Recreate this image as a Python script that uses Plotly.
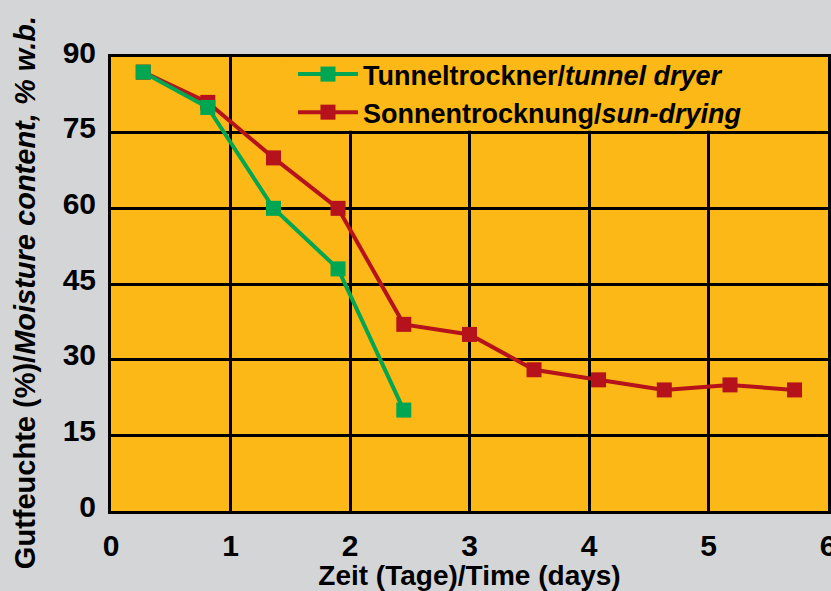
import plotly.graph_objects as go

days_tunnel = [0.27, 0.81, 1.36, 1.90, 2.45]
moist_tunnel = [87, 80, 60, 48, 20]
days_sun = [0.27, 0.81, 1.36, 1.90, 2.45, 3.0, 3.54, 4.08, 4.63, 5.18, 5.72]
moist_sun = [87, 81, 70, 60, 37, 35, 28, 26, 24, 25, 24]
x_ticks = [0, 1, 2, 3, 4, 5, 6]
y_ticks = [0, 15, 30, 45, 60, 75, 90]

GREEN = "#00a651"
RED = "#b5121b"
ORANGE = "#fbb817"
GREY = "#d4d5d7"
FONT = "Liberation Sans"

fig = go.Figure()
fig.add_trace(go.Scatter(
    x=days_sun, y=moist_sun, mode="lines+markers",
    name="Sonnentrocknung/<i>sun-drying</i>",
    line=dict(color=RED, width=4),
    marker=dict(symbol="square", size=15, color=RED),
))
fig.add_trace(go.Scatter(
    x=days_tunnel, y=moist_tunnel, mode="lines+markers",
    name="Tunneltrockner/<i>tunnel dryer</i>",
    line=dict(color=GREEN, width=4),
    marker=dict(symbol="square", size=15, color=GREEN),
))

fig.add_shape(type="rect", xref="x", yref="y", x0=1.45, x1=6, y0=75.4, y1=90,
              fillcolor=ORANGE, line=dict(width=0), layer="between")

fig.add_annotation(text="Gutfeuchte (%)/<i>Moisture content, % w.b.</i>",
                   xref="paper", yref="paper", x=-0.12, y=0.482,
                   xanchor="center", yanchor="middle", textangle=-90, showarrow=False,
                   font=dict(size=29, family=FONT, weight="bold", color="black"))

fig.update_layout(
    width=831, height=591,
    paper_bgcolor=GREY, plot_bgcolor=ORANGE,
    margin=dict(l=111, r=3, t=57, b=80, autoexpand=False),
    font=dict(family=FONT, color="black", weight="bold"),
    showlegend=True,
    legend=dict(x=0.2538, y=1.0154, xanchor="left", yanchor="top",
                bgcolor="rgba(0,0,0,0)", traceorder="reversed",
                font=dict(size=27, family=FONT, weight="bold"),
                itemwidth=60, tracegroupgap=0),
    xaxis=dict(range=[0, 6], tickvals=x_ticks, showgrid=True, gridcolor="black",
               gridwidth=2.5, showline=True, linecolor="black", linewidth=3, mirror=True,
               zeroline=False, ticks="", ticklabeloverflow="allow", ticklabelstandoff=6,
               automargin=False,
               tickfont=dict(size=30, family=FONT, weight="bold"),
               title=dict(text="Zeit (Tage)/Time (days)", font=dict(size=28, family=FONT, weight="bold"),
                          standoff=2)),
    yaxis=dict(range=[0, 90], tickvals=y_ticks, showgrid=True, gridcolor="black",
               gridwidth=2.5, showline=True, linecolor="black", linewidth=3, mirror=True,
               zeroline=False, ticks="", ticklabelshift=-5, ticklabelstandoff=6,
               automargin=False,
               tickfont=dict(size=30, family=FONT, weight="bold")),
)

fig.write_html("out.html", config={"displayModeBar": False},
               post_script="document.body.style.margin='0';")
